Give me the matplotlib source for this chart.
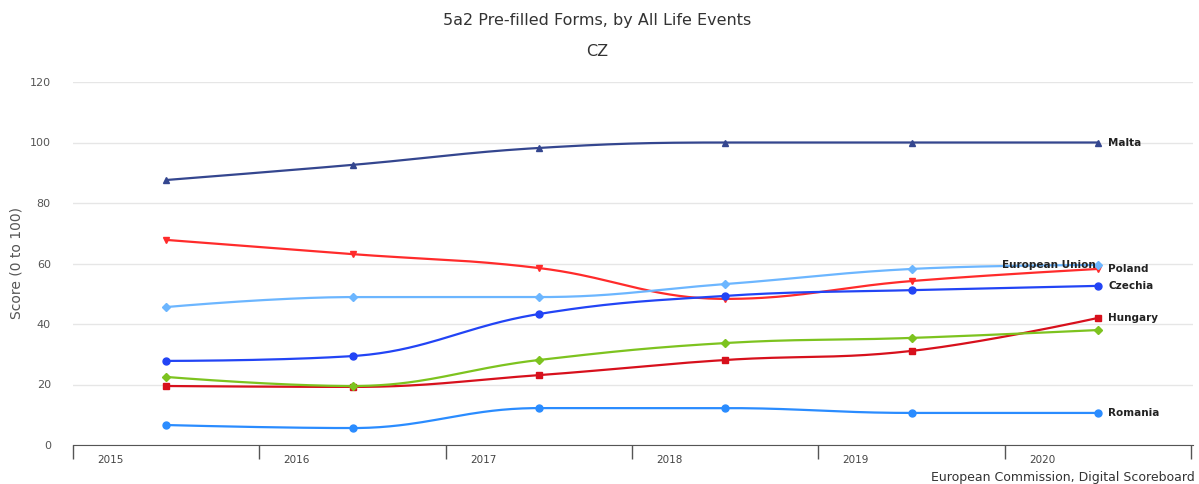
import matplotlib

matplotlib.use("Agg")
import matplotlib.pyplot as plt
import numpy as np

plt.rcParams["font.family"] = ["DejaVu Sans"]

years = [2015, 2016, 2017, 2018, 2019, 2020]

malta = [87.6, 92.6, 98.2, 100.0, 100.0, 100.0]
poland = [67.8, 63.1, 58.5, 48.3, 54.2, 58.2]
eu = [45.6, 48.9, 48.9, 53.2, 58.2, 59.5]
czechia = [27.8, 29.4, 43.3, 49.3, 51.2, 52.6]
hungary = [19.5, 19.2, 23.1, 28.1, 31.1, 42.0]
slovakia = [22.5, 19.5, 28.1, 33.7, 35.4, 38.0]
romania = [6.6, 5.6, 12.2, 12.2, 10.6, 10.6]

series = [
    ("Malta", malta, "#34468f", "^", "Malta"),
    ("Poland", poland, "#ff2b2b", "v", "Poland"),
    ("European Union", eu, "#6cb6ff", "D", "European Union"),
    ("Czechia", czechia, "#2244f5", "o", "Czechia"),
    ("Hungary", hungary, "#d7101c", "s", "Hungary"),
    ("Slovakia", slovakia, "#7dc31f", "D", None),
    ("Romania", romania, "#2a8cff", "o", "Romania"),
]


def spline(xs, ys, smoothing=1.5, n=40):
    # Bezier spline with the control point clamping used by Highcharts
    xs = list(map(float, xs))
    ys = list(map(float, ys))
    denom = smoothing + 1
    right = [None] * len(xs)
    px, py = [xs[0]], [ys[0]]
    for i in range(1, len(xs)):
        x, y = xs[i], ys[i]
        lx, ly = xs[i - 1], ys[i - 1]
        lcx, lcy = x, y
        if i < len(xs) - 1:
            nx, ny = xs[i + 1], ys[i + 1]
            lcx = (smoothing * x + lx) / denom
            lcy = (smoothing * y + ly) / denom
            rcx = (smoothing * x + nx) / denom
            rcy = (smoothing * y + ny) / denom
            corr = (rcy - lcy) * (rcx - x) / (rcx - lcx) + y - rcy
            lcy += corr
            rcy += corr
            if lcy > ly and lcy > y:
                lcy = max(ly, y)
                rcy = 2 * y - lcy
            elif lcy < ly and lcy < y:
                lcy = min(ly, y)
                rcy = 2 * y - lcy
            if rcy > ny and rcy > y:
                rcy = max(ny, y)
                lcy = 2 * y - rcy
            elif rcy < ny and rcy < y:
                rcy = min(ny, y)
                lcy = 2 * y - rcy
            right[i] = (rcx, rcy)
        p0 = (lx, ly)
        p1 = right[i - 1] if right[i - 1] else p0
        p2 = (lcx, lcy)
        p3 = (x, y)
        t = np.linspace(0, 1, n)[1:]
        bx = ((1 - t) ** 3 * p0[0] + 3 * (1 - t) ** 2 * t * p1[0]
              + 3 * (1 - t) * t ** 2 * p2[0] + t ** 3 * p3[0])
        by = ((1 - t) ** 3 * p0[1] + 3 * (1 - t) ** 2 * t * p1[1]
              + 3 * (1 - t) * t ** 2 * p2[1] + t ** 3 * p3[1])
        px.extend(bx)
        py.extend(by)
    return np.array(px), np.array(py)


fig = plt.figure(figsize=(11.99, 4.84), dpi=100)
ax = fig.add_axes([73 / 1199, 39 / 484, 1120 / 1199, 363 / 484])

xpos = [y + 0.5 for y in years]

for name, vals, color, marker, label in series:
    sx, sy = spline(xpos, vals)
    ax.plot(sx, sy, color=color, lw=1.6, solid_capstyle="round", zorder=3)
    ms = 4 if marker == "D" else 5
    ax.plot(xpos, vals, linestyle="none", marker=marker, color=color,
            markersize=ms, zorder=4)
    if label == "European Union":
        ax.text(xpos[-1] - 0.01, vals[-1], label, ha="right", va="center",
                fontsize=7.5, fontweight="bold", color="#222222", zorder=5)
    elif label:
        ax.text(xpos[-1] + 0.055, vals[-1], label, ha="left", va="center",
                fontsize=7.5, fontweight="bold", color="#222222", zorder=5)

ax.set_xlim(2015, 2021.01)
ax.set_ylim(0, 120)
ax.set_yticks(range(0, 121, 20))
ax.set_xticks(range(2015, 2022))
ax.set_xticklabels([])
for y in years:
    ax.text(y + 0.2, -5, str(y), ha="center", va="center", fontsize=7.5,
            color="#444444")

ax.grid(axis="y", color="#e6e6e6", lw=1)
ax.set_axisbelow(True)
for side in ("top", "right", "left"):
    ax.spines[side].set_visible(False)
ax.spines["bottom"].set_color("#555555")
ax.tick_params(axis="x", length=10, width=1, color="#555555", direction="out")
ax.tick_params(axis="y", length=0, labelsize=8, labelcolor="#555555", pad=16)

fig.text(17 / 1199, 1 - 263 / 484, "Score (0 to 100)", rotation=90,
         ha="center", va="center", fontsize=10, color="#555555")

fig.text(597 / 1199, 1 - 20 / 484, "5a2 Pre-filled Forms, by All Life Events",
         ha="center", va="center", fontsize=11.5, color="#333333")
fig.text(597 / 1199, 1 - 52 / 484, "CZ", ha="center", va="center",
         fontsize=11.5, color="#333333")
fig.text(1195 / 1199, 1 - 477 / 484, "European Commission, Digital Scoreboard",
         ha="right", va="center", fontsize=9, color="#333333")

fig.savefig("out.png", dpi=100)
